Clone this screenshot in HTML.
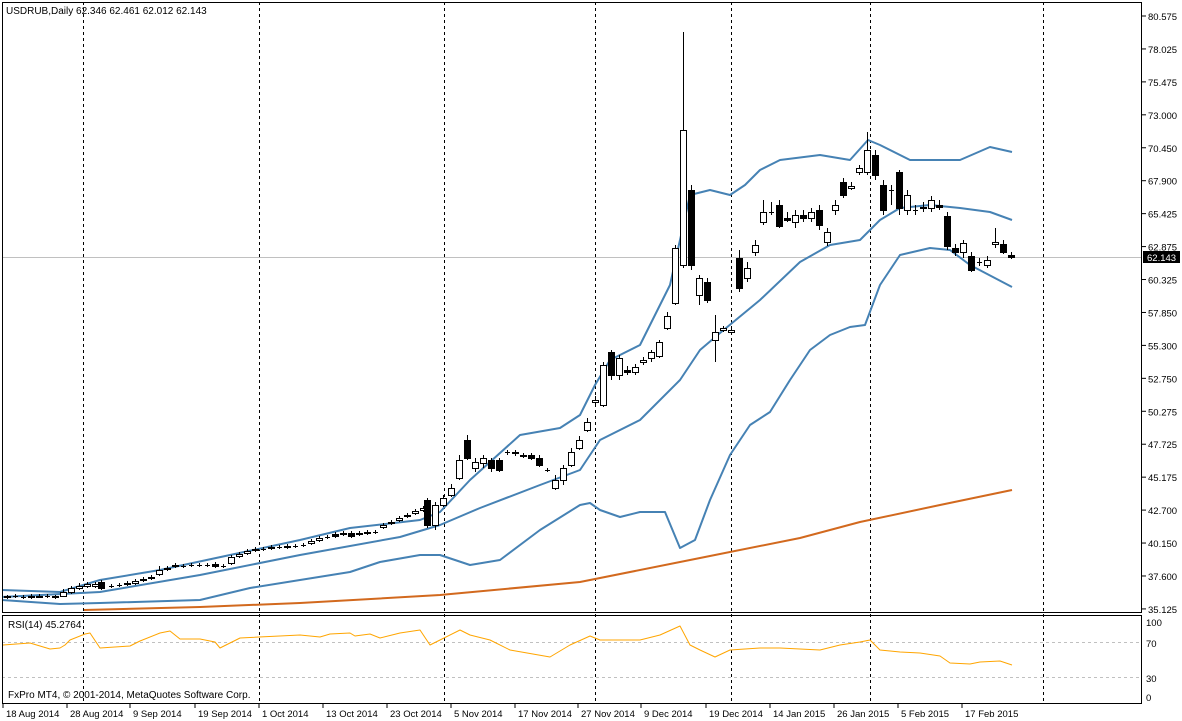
<!DOCTYPE html><html><head><style>body{margin:0;background:#fff;overflow:hidden}svg{display:block;font-family:"Liberation Sans",sans-serif;font-size:10px}</style></head><body>
<svg id="s" width="1182" height="721" xmlns="http://www.w3.org/2000/svg">
<rect x="0" y="0" width="1182" height="721" fill="#fff"/>
<g stroke="#000" stroke-dasharray="3,3" stroke-width="1">
<line x1="83.5" y1="2" x2="83.5" y2="703"/><line x1="259.5" y1="2" x2="259.5" y2="703"/><line x1="444.5" y1="2" x2="444.5" y2="703"/><line x1="595.5" y1="2" x2="595.5" y2="703"/><line x1="731.5" y1="2" x2="731.5" y2="703"/><line x1="870.5" y1="2" x2="870.5" y2="703"/><line x1="1043.5" y1="2" x2="1043.5" y2="703"/>
</g>
<line x1="2" y1="257.5" x2="1142" y2="257.5" stroke="#c0c0c0"/>
<g stroke="#c0c0c0" stroke-dasharray="3,3"><line x1="2" y1="642.5" x2="1142" y2="642.5"/><line x1="2" y1="677.5" x2="1142" y2="677.5"/></g>
<g id="lines" fill="none" stroke-linejoin="round"></g>
<g id="c"></g>
<rect x="2.5" y="2.5" width="1139" height="610" fill="none" stroke="#000"/>
<rect x="2.5" y="615.5" width="1139" height="88" fill="none" stroke="#000"/>
<text x="6" y="14" font-size="10">USDRUB,Daily  62.346 62.461 62.012 62.143</text>
<text x="8" y="628">RSI(14) 45.2764</text>
<text x="8" y="698">FxPro MT4, © 2001-2014, MetaQuotes Software Corp.</text>
<g id="ax" font-size="9.5"></g>
<rect x="1143" y="251" width="37" height="12" fill="#000"/><text x="1147" y="261" fill="#fff" font-size="9.5">62.143</text>
</svg>
<script>
const NS='http://www.w3.org/2000/svg';
function el(p,t,a,txt){const e=document.createElementNS(NS,t);for(const k in a)e.setAttribute(k,a[k]);if(txt)e.textContent=txt;document.getElementById(p).appendChild(e);}
function pl(pts,c,w){el('lines','polyline',{points:pts.map(p=>p.join(',')).join(' '),stroke:c,'stroke-width':w});}
pl([[2,590],[60,592],[100,580],[160,570],[230,555],[300,540],[350,528],[420,520],[440,512],[470,480],[520,435],[560,428],[580,415],[595,385],[610,360],[640,345],[670,285],[690,195],[710,190],[730,195],[745,185],[760,170],[780,160],[820,155],[850,160],[868,140],[880,145],[910,160],[960,160],[990,147],[1012,152]],'#4682b4',2);
pl([[2,597],[100,592],[200,575],[300,555],[400,537],[440,525],[480,508],[540,485],[580,470],[600,440],[640,420],[680,380],[700,350],[720,333],[760,300],[800,262],[830,245],[860,240],[880,220],[900,208],[930,205],[960,208],[990,212],[1012,220]],'#4682b4',2);
pl([[2,600],[60,604],[100,603],[200,600],[250,588],[300,580],[350,572],[380,562],[420,555],[440,555],[455,560],[470,565],[500,560],[540,530],[580,505],[590,503],[600,510],[620,517],[640,512],[665,512],[680,548],[695,540],[710,500],[730,455],[750,425],[770,412],[790,380],[810,350],[830,335],[850,327],[865,325],[880,285],[900,255],[930,248],[950,250],[970,265],[1012,287]],'#4682b4',2);
pl([[84,610],[200,607],[300,603],[440,595],[580,582],[700,558],[800,538],[860,522],[940,505],[1012,490]],'#d2691e',2);
pl([[3,645],[30,643],[50,649],[60,648],[65,645],[70,640],[85,634],[90,633],[100,648],[130,646],[140,641],[160,633],[170,631],[180,639],[200,639],[215,642],[220,648],[240,638],[300,635],[320,637],[330,634],[350,633],[355,636],[370,634],[380,638],[400,633],[420,630],[430,645],[440,640],[460,630],[470,635],[490,640],[510,650],[550,657],[570,645],[590,636],[600,640],[620,640],[640,640],[660,635],[680,626],[690,645],[700,650],[715,657],[730,650],[760,648],[780,648],[820,650],[840,645],[860,642],[870,640],[880,650],[900,652],[920,653],[940,656],[950,663],[970,664],[980,662],[1000,661],[1012,665]],'#ffa500',1);
const C=[[7,597,596,595,599],[15,596,596,594,598],[23,597,597,595,599],[31,596,597,594,599],[39,597,596,594,598],[47,596,596,594,598],[55,597,596,595,599],[63,596,592,589,597],[71,592,588,586,594],[79,588,586,583,590],[87,586,584,582,588],[95,586,584,582,588],[101,582,588,580,590],[111,586,586,584,588],[119,585,585,583,587],[127,584,583,581,586],[135,583,581,579,585],[143,580,579,577,582],[151,578,577,575,580],[159,574,570,566,576],[167,569,568,566,571],[175,566,565,563,568],[183,566,566,564,568],[191,565,565,563,567],[199,565,565,563,567],[207,565,565,563,567],[215,564,566,562,568],[223,566,566,564,568],[231,563,557,555,565],[239,556,554,552,558],[247,553,551,549,555],[255,550,549,547,552],[263,549,549,547,551],[271,548,547,545,550],[279,547,547,545,549],[287,547,546,544,549],[295,546,546,544,548],[303,545,545,543,547],[311,543,541,539,545],[319,540,538,536,542],[327,537,537,535,539],[335,534,536,532,538],[343,534,533,531,536],[351,533,536,531,538],[359,534,533,531,536],[367,533,532,530,535],[375,532,532,530,534],[383,527,525,523,529],[391,523,522,520,525],[399,520,518,516,522],[407,516,515,513,518],[415,513,511,509,515],[423,510,508,506,512],[427,500,525,498,528],[435,525,505,502,530],[443,505,498,495,507],[451,495,488,484,497],[459,478,460,455,480],[467,440,458,435,460],[475,468,462,458,472],[483,463,458,455,468],[491,460,468,458,472],[499,460,470,458,472],[507,452,452,450,455],[515,452,453,450,456],[523,455,456,453,458],[531,455,458,453,460],[539,458,465,455,467],[547,470,470,468,472],[555,488,480,475,490],[563,480,468,465,485],[571,465,452,448,467],[579,448,440,436,450],[587,430,422,418,432],[595,402,400,396,406],[603,405,365,362,407],[611,352,375,350,380],[619,375,358,355,380],[627,370,372,366,375],[635,372,367,364,375],[643,362,360,357,365],[651,358,352,350,362],[659,356,342,340,358],[667,328,316,312,330],[675,303,248,245,305],[683,265,130,32,268],[691,190,265,185,270],[699,295,278,275,305],[707,282,300,278,303],[715,340,332,315,362],[723,330,328,326,332],[731,332,330,328,334],[739,258,288,250,292],[747,278,268,262,282],[755,252,245,240,256],[763,222,212,200,225],[771,212,212,202,215],[779,205,226,200,228],[787,218,220,212,222],[795,222,215,210,228],[803,215,218,210,222],[811,218,212,208,222],[819,210,225,205,230],[827,242,232,228,246],[835,210,205,200,215],[843,182,195,178,198],[851,188,186,182,190],[859,172,168,165,175],[867,172,150,132,175],[875,155,175,150,180],[883,185,210,180,215],[891,190,190,185,205],[899,172,208,170,215],[907,210,195,190,215],[915,210,210,205,215],[923,208,207,202,212],[931,208,200,196,212],[939,205,207,200,210],[947,216,246,212,250],[955,248,252,244,256],[963,252,243,240,258],[971,256,270,252,272],[979,262,262,258,266],[987,265,260,256,268],[995,244,242,228,248],[1003,244,252,240,254],[1011,255,257,252,259]];
for(const [x,o,c,h,l] of C){el('c','line',{x1:x+.5,y1:h,x2:x+.5,y2:l,stroke:'#000'});const t=Math.min(o,c),b=Math.max(o,c);if(b-t<1){el('c','line',{x1:x-2,y1:t+.5,x2:x+3,y2:t+.5,stroke:'#000'});}else el('c','rect',{x:x-2.5,y:t+.5,width:6,height:b-t,fill:c>o?'#000':'#fff',stroke:'#000'});}
const L=['80.575','78.025','75.475','73.000','70.450','67.900','65.425','62.875','60.325','57.850','55.300','52.750','50.275','47.725','45.175','42.700','40.150','37.600','35.125'];
L.forEach((p,i)=>{const y=16+i*32.94;el('ax','line',{x1:1142,y1:y,x2:1146,y2:y,stroke:'#000'});el('ax','text',{x:1148,y:y+4},p);});
[[100,622],[70,643],[30,678],[0,697]].forEach(([v,y])=>el('ax','text',{x:1146,y:y+4},String(v)));
const D=[[3,'18 Aug 2014'],[67,'28 Aug 2014'],[130,'9 Sep 2014'],[195,'19 Sep 2014'],[259,'1 Oct 2014'],[323,'13 Oct 2014'],[387,'23 Oct 2014'],[451,'5 Nov 2014'],[515,'17 Nov 2014'],[578,'27 Nov 2014'],[641,'9 Dec 2014'],[706,'19 Dec 2014'],[770,'14 Jan 2015'],[834,'26 Jan 2015'],[898,'5 Feb 2015'],[962,'17 Feb 2015']];
D.forEach(([x,t])=>{el('ax','line',{x1:x,y1:704,x2:x,y2:708,stroke:'#000'});el('ax','text',{x:x+3,y:717},t);});
</script></body></html>
